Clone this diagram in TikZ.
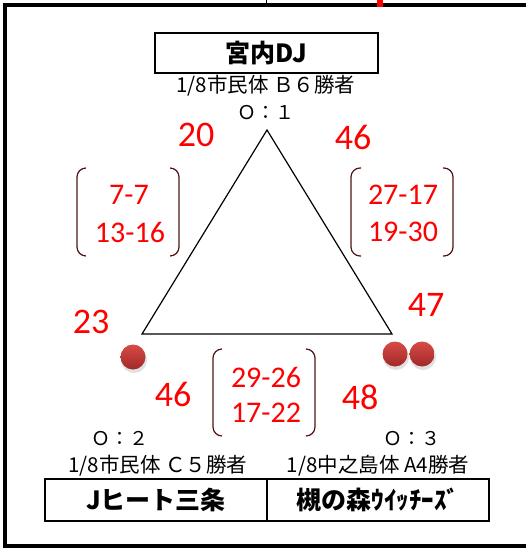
\documentclass[tikz,border=0pt]{standalone}
\usepackage{fontspec}
\setmainfont{Noto Sans CJK JP}
\newfontfamily\numfont{Carlito}
\definecolor{brkcol}{RGB}{80,20,20}
\definecolor{dotlight}{RGB}{215,75,70}
\definecolor{dotdark}{RGB}{160,40,40}
\begin{document}
\begin{tikzpicture}[x=1pt,y=-1pt,
  teambox/.style={draw,line width=2pt,minimum width=222pt,minimum height=42pt,inner sep=0pt,font=\fontsize{25}{25}\selectfont\bfseries},
  sub/.style={inner sep=0pt,font=\fontsize{20.5}{20.5}\selectfont},
  rec/.style={inner sep=0pt,font=\fontsize{19}{19}\selectfont},
  score/.style={inner sep=0pt,text=red,font=\numfont\fontsize{36}{36}\selectfont},
  game/.style={inner sep=0pt,text=red,font=\numfont\fontsize{30}{30}\selectfont},
  brk/.style={draw=brkcol,line width=1.2pt,rounded corners=9pt},
  ball/.style={circle,minimum size=25pt,inner sep=0pt,top color=dotlight,bottom color=dotdark},
  ballshadow/.style={circle,minimum size=26pt,inner sep=0pt,fill=black,opacity=0.12},
  tri/.style={draw,line width=1.2pt,line join=miter}]
\useasboundingbox (0,0) rectangle (526,548);
% outer frame
\draw[line width=4pt] (526,5.3) -- (5.3,5.3) -- (5.3,546) -- (526,546);
\draw[line width=1pt] (266.5,0) -- (266.5,4);
\fill[red] (377,0) rectangle (383,7);
% top team
\node[teambox,minimum width=223pt,minimum height=40pt] (top) at (266.5,53) {宮内DJ};
\node[sub] (topsub) at (266,86) {1/8市民体 Ｂ６勝者};
\node[rec] (toprec) at (266,113) {Ｏ：１};
% triangle
\coordinate (A) at (267,130);
\coordinate (B) at (142,334);
\coordinate (C) at (392,334);
\draw[tri] (A) -- (B) -- (C) -- cycle;
% scores
\node[score] (s20) at (196,135) {20};
\node[score] (s46a) at (353,137) {46};
\node[score] (s23) at (91,322) {23};
\node[score] (s47) at (426,305) {47};
\node[score] (s46b) at (173,394) {46};
\node[score] (s48) at (360,397) {48};
% left games
\node[game] (g1a) at (129,195) {7-7};
\node[game] (g1b) at (130,232) {13-16};
\draw[brk] (86,168) -- (77,168) -- (77,256) -- (86,256);
\draw[brk] (170,168) -- (179,168) -- (179,256) -- (170,256);
% right games
\node[game] (g2a) at (403,195) {27-17};
\node[game] (g2b) at (403,232) {19-30};
\draw[brk] (361,168) -- (351,168) -- (351,256) -- (361,256);
\draw[brk] (443,168) -- (453,168) -- (453,256) -- (443,256);
% bottom games
\node[game] (g3a) at (266,377) {29-26};
\node[game] (g3b) at (266,413) {17-22};
\draw[brk] (222,349) -- (213,349) -- (213,436) -- (222,436);
\draw[brk] (306,349) -- (315,349) -- (315,436) -- (306,436);
% balls
\node[ballshadow] at (134,360) {};
\node[ballshadow] at (396,357) {};
\node[ballshadow] at (423,357) {};
\node[ball] (b1) at (133,357) {};
\node[ball] (b2) at (395,354) {};
\node[ball] (b3) at (422,354) {};
% bottom teams
\node[rec] (lrec) at (120,439) {Ｏ：２};
\node[sub] (lsub) at (158,466) {1/8市民体 Ｃ５勝者};
\node[rec] (rrec) at (412,439) {Ｏ：３};
\node[sub] (rsub) at (378,466) {1/8中之島体 A4勝者};
\node[teambox] (left) at (156,500) {Jヒート三条};
\node[teambox] (right) at (378,500) {槻の森ｳｲｯﾁｰｽﾞ};
\end{tikzpicture}
\end{document}
